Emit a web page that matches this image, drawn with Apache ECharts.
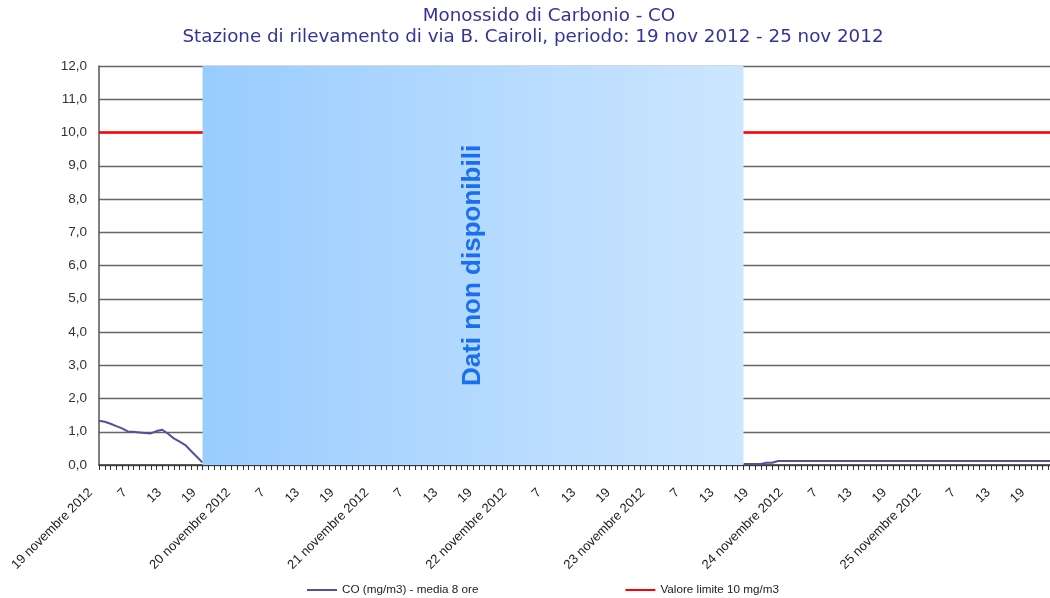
<!DOCTYPE html>
<html>
<head>
<meta charset="utf-8">
<script src="https://cdn.jsdelivr.net/npm/echarts@6/dist/echarts.min.js"></script>
<style>html,body{margin:0;padding:0;background:#fff;}#c{width:1050px;height:598px;}</style>
</head>
<body>
<div id="c"></div>
<script>
// ---- data ----
const titleLine1 = 'Monossido di Carbonio - CO';
const titleLine2 = 'Stazione di rilevamento di via B. Cairoli, periodo: 19 nov 2012 - 25 nov 2012';
const days = ['19 novembre 2012', '20 novembre 2012', '21 novembre 2012', '22 novembre 2012',
              '23 novembre 2012', '24 novembre 2012', '25 novembre 2012'];
const hours = ['1','2','3','4','5','6','7','8','9','10','11','12',
               '13','14','15','16','17','18','19','20','21','22','23','24'];
const yTicks = [0,1,2,3,4,5,6,7,8,9,10,11,12];
const coName = 'CO (mg/m3) - media 8 ore';
const limitName = 'Valore limite 10 mg/m3';
const limitValue = 10;
// hourly CO values (mg/m3), null = not available
const coValues = [
  1.33,1.30,1.24,1.17,1.10,1.01,1.00,0.98,0.96,0.95,1.02,1.06,0.94,0.80,0.70,0.60,0.42,0.25,0.07,null,null,null,null,null,
  null,null,null,null,null,null,null,null,null,null,null,null,null,null,null,null,null,null,null,null,null,null,null,null,
  null,null,null,null,null,null,null,null,null,null,null,null,null,null,null,null,null,null,null,null,null,null,null,null,
  null,null,null,null,null,null,null,null,null,null,null,null,null,null,null,null,null,null,null,null,null,null,null,null,
  null,null,null,null,null,null,null,null,null,null,null,null,null,null,null,null,0.03,0.03,0.03,0.03,0.07,0.07,0.12,0.12,
  0.12,0.12,0.12,0.12,0.12,0.12,0.12,0.12,0.12,0.12,0.12,0.12,0.12,0.12,0.12,0.12,0.12,0.12,0.12,0.12,0.12,0.12,0.12,0.12,
  0.12,0.12,0.12,0.12,0.12,0.12,0.12,0.12,0.12,0.12,0.12,0.12,0.12,0.12,0.12,0.12,0.12,0.12,0.12,0.12,0.12,0.12,0.12,0.12
];
const gapLabel = 'Dati non disponibili';
const gapStart = 18;   // category index where data stop
const gapEnd = 112;    // category index where data resume

// categories (unique keys), displayed via formatter
const categories = [];
days.forEach(function (d) { hours.forEach(function (h) { categories.push(d + '|' + h); }); });

const chart = echarts.init(document.getElementById('c'), null, {renderer: 'canvas'});
const axisFont = 'Arial, "Liberation Sans", sans-serif';
const titleFont = {
  fontFamily: '"DejaVu Sans", Verdana, sans-serif',
  fontSize: 18.3,
  fontWeight: 'normal',
  color: '#333399',
  lineHeight: 22
};

chart.setOption({
  animation: false,
  backgroundColor: '#ffffff',
  title: [
    {text: titleLine1, left: 549, top: 5, textAlign: 'center', padding: 0, textStyle: titleFont},
    {text: titleLine2, left: 533, top: 26, textAlign: 'center', padding: 0, textStyle: titleFont}
  ],
  legend: {
    left: 302,
    top: 579,
    itemGap: 147,
    itemWidth: 30,
    itemHeight: 2,
    icon: 'rect',
    textStyle: {fontFamily: axisFont, fontSize: 11.7, color: '#222'},
    data: [coName, limitName]
  },
  grid: {left: 99, top: 66, width: 961, height: 399, containLabel: false, outerBoundsMode: 'none'},
  xAxis: {
    type: 'category',
    boundaryGap: false,
    data: categories,
    axisLine: {show: true, lineStyle: {color: '#333', width: 1.5}},
    axisTick: {show: true, interval: 0, length: 5, lineStyle: {color: '#333'}},
    axisLabel: {
      interval: 5,
      rotate: 45,
      margin: 17,
      padding: [0, 12, 0, 0],
      fontFamily: axisFont,
      fontSize: 13,
      color: '#222',
      formatter: function (v) {
        const p = v.split('|');
        return p[1] === '1' ? p[0] : p[1];
      }
    },
    splitLine: {show: false}
  },
  yAxis: {
    type: 'value',
    min: yTicks[0],
    max: yTicks[yTicks.length - 1],
    interval: 1,
    axisLine: {show: true, lineStyle: {color: '#555', width: 1.5}},
    axisTick: {show: false},
    axisLabel: {
      margin: 12,
      fontFamily: axisFont,
      fontSize: 13.5,
      color: '#333',
      formatter: function (v) { return v.toFixed(1).replace('.', ','); }
    },
    splitLine: {show: true, lineStyle: {color: '#666', width: 1.3}}
  },
  series: [
    {
      name: coName,
      type: 'line',
      data: coValues,
      showSymbol: false,
      symbol: 'none',
      connectNulls: false,
      color: '#52529c',
      lineStyle: {color: '#52529c', width: 2},
      z: 3,
      markArea: {
        silent: true,
        z: 10,
        itemStyle: {
          color: new echarts.graphic.LinearGradient(0, 0, 1, 0, [
            {offset: 0, color: '#99ccff'},
            {offset: 1, color: '#cde6ff'}
          ])
        },
        label: {
          show: true,
          position: 'inside',
          rotate: 90,
          fontFamily: axisFont,
          fontSize: 26,
          fontWeight: 'bold',
          color: '#1a6ef2'
        },
        data: [[
          {name: gapLabel, xAxis: categories[gapStart], yAxis: yTicks[yTicks.length - 1]},
          {xAxis: categories[gapEnd], yAxis: yTicks[0]}
        ]]
      }
    },
    {
      name: limitName,
      type: 'line',
      data: [],
      symbol: 'none',
      color: '#ff0000',
      lineStyle: {color: '#ff0000', width: 2},
      markLine: {
        silent: true,
        symbol: 'none',
        label: {show: false},
        lineStyle: {color: '#ff0000', width: 2.5, type: 'solid'},
        data: [{yAxis: limitValue}]
      }
    }
  ]
});
</script>
</body>
</html>
